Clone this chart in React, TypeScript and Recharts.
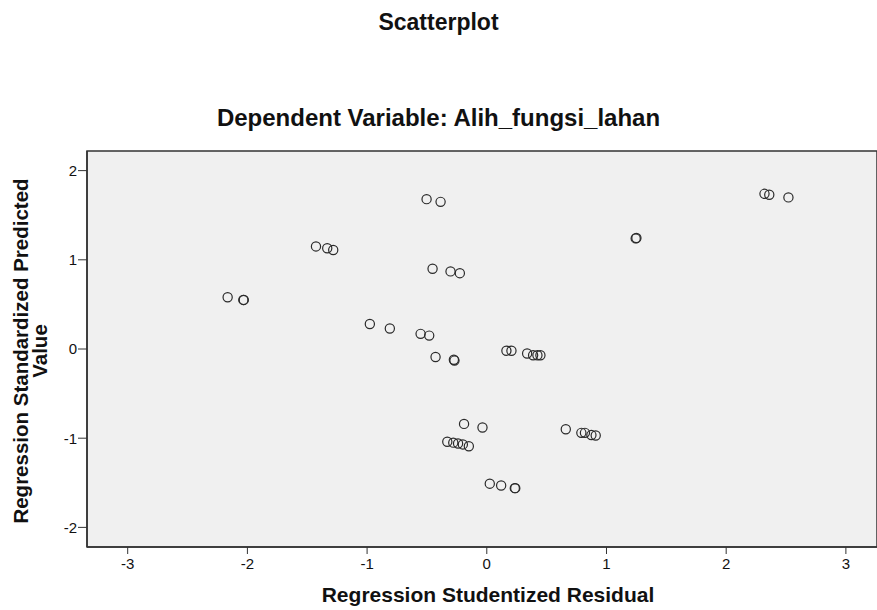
import React from 'react';
import { ScatterChart, Scatter, XAxis, YAxis, ReferenceArea } from 'recharts';

// Regression studentized residual (x) vs standardized predicted value (y)
const residuals = [
    -0.503, -0.386,
    -1.427, -1.333, -1.283,
    -0.453, -0.303, -0.225,
    -2.165, -2.034, -2.03,
    -0.977, -0.81,
    -0.553, -0.481,
    -0.428, -0.275, -0.27,
    2.32, 2.36, 2.52,
    1.244, 1.25,
    0.164, 0.206, 0.337, 0.387, 0.423, 0.448,
    -0.19, -0.036,
    -0.33, -0.28, -0.24, -0.2, -0.15,
    0.66, 0.79, 0.82, 0.874, 0.91,
    0.025, 0.12, 0.234, 0.238,
];
const predicted = [
    1.68, 1.65,
    1.15, 1.13, 1.11,
    0.9, 0.87, 0.85,
    0.58, 0.55, 0.55,
    0.28, 0.23,
    0.17, 0.15,
    -0.09, -0.12, -0.13,
    1.74, 1.73, 1.7,
    1.24, 1.245,
    -0.02, -0.02, -0.05, -0.07, -0.07, -0.07,
    -0.84, -0.88,
    -1.04, -1.05, -1.06, -1.07, -1.09,
    -0.9, -0.94, -0.94, -0.965, -0.97,
    -1.51, -1.53, -1.56, -1.56,
];
const xTicks = [-3, -2, -1, 0, 1, 2, 3];
const yTicks = [-2, -1, 0, 1, 2];
const xDomain: [number, number] = [-3.34, 3.26];
const yDomain: [number, number] = [-2.22, 2.22];

const points = residuals.map((x, i) => ({ x, y: predicted[i] }));

const font = '"Liberation Sans", Arial, sans-serif';
const tickStyle = { fontSize: 15, fill: '#111', fontFamily: font, fontWeight: 'normal' };

const Ring = (props: any) => (
    <circle cx={props.cx} cy={props.cy} r={4.6} fill="none" stroke="#2a2a2a" strokeWidth={1.2} />
);

const App = () => (
    <div style={{ position: 'absolute', left: 0, top: 0, width: 877, height: 610, background: '#fff', fontFamily: font, color: '#111' }}>
        <style>{`body{margin:0}`}</style>
        <div style={{ position: 'absolute', left: 0, width: 877, top: 9, lineHeight: '26px', textAlign: 'center', fontSize: 23, fontWeight: 'bold' }}>
            Scatterplot
        </div>
        <div style={{ position: 'absolute', left: 0, width: 877, top: 105, lineHeight: '26px', textAlign: 'center', fontSize: 24, fontWeight: 'bold' }}>
            Dependent Variable: Alih_fungsi_lahan
        </div>
        <div style={{ position: 'absolute', left: 0, width: 976, top: 583, lineHeight: '24px', textAlign: 'center', fontSize: 21, fontWeight: 'bold' }}>
            Regression Studentized Residual
        </div>
        <div style={{
            position: 'absolute', left: 30, top: 351, width: 400, transform: 'translate(-50%, -50%) rotate(-90deg)',
            textAlign: 'center', fontSize: 20.5, lineHeight: '19px', fontWeight: 'bold'
        }}>
            Regression Standardized Predicted<br />Value
        </div>
        <ScatterChart width={877} height={610} margin={{ top: 151, right: 0, left: 0, bottom: 0 }}>
            <ReferenceArea x1={xDomain[0]} x2={xDomain[1]} y1={yDomain[0]} y2={yDomain[1]} fill="#f0f0f0" fillOpacity={1} stroke="#333" strokeWidth={1.5} />
            <XAxis
                type="number"
                dataKey="x"
                domain={xDomain}
                ticks={xTicks}
                height={63}
                axisLine={{ stroke: '#333', strokeWidth: 1.5 }}
                tickLine={{ stroke: '#333' }}
                tickSize={7}
                tickMargin={4}
                tick={tickStyle}
                allowDataOverflow
            />
            <YAxis
                type="number"
                dataKey="y"
                domain={yDomain}
                ticks={yTicks}
                width={87}
                axisLine={{ stroke: '#333', strokeWidth: 1.5 }}
                tickLine={{ stroke: '#333' }}
                tickSize={9}
                tickMargin={1}
                tick={tickStyle}
                allowDataOverflow
            />
            <Scatter data={points} shape={Ring} isAnimationActive={false} />
        </ScatterChart>
    </div>
);

export default App;
